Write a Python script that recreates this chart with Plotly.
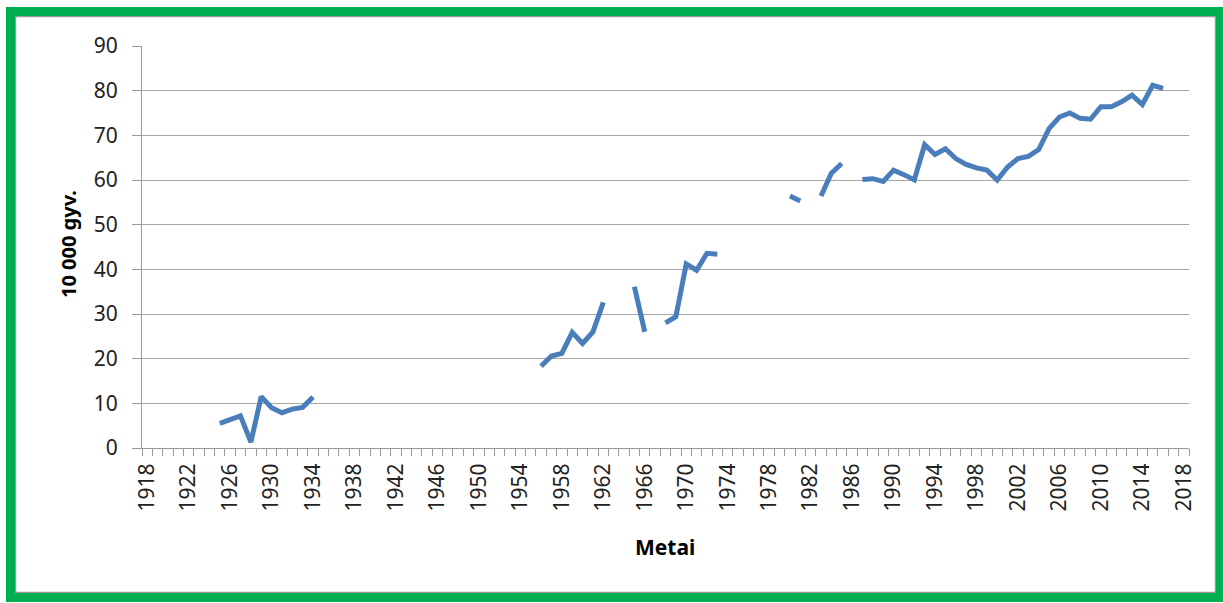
import plotly.graph_objects as go

years = list(range(1918, 2019))
population = [
    None, None, None, None, None, None, None, 5.5, 6.5, 7.2,          # 1918-1927
    1.3, 11.5, 9.0, 7.9, 8.7, 9.1, 11.4, None, None, None,            # 1928-1937
    None, None, None, None, None, None, None, None, None, None,       # 1938-1947
    None, None, None, None, None, None, None, None, 18.3, 20.6,       # 1948-1957
    21.2, 25.9, 23.4, 26.0, 32.6, None, None, 36.1, 26.0, None,       # 1958-1967
    28.0, 29.4, 41.2, 39.8, 43.6, 43.4, None, None, None, None,       # 1968-1977
    None, None, 56.4, 55.3, None, 56.4, 61.5, 63.7, None, 60.1,       # 1978-1987
    60.3, 59.7, 62.2, 61.2, 60.0, 67.9, 65.7, 67.0, 64.8, 63.5,       # 1988-1997
    62.7, 62.2, 60.0, 62.9, 64.8, 65.3, 66.8, 71.5, 74.1, 75.0,       # 1998-2007
    73.8, 73.6, 76.4, 76.4, 77.5, 79.0, 76.9, 81.2, 80.5, None,       # 2008-2017
    None,                                                             # 2018
]
tick_years = list(range(1918, 2019, 4))
tick_labels = [str(y) for y in tick_years]
y_ticks = list(range(0, 91, 10))

W, H = 1223, 603
L, R, T, B = 142, 34, 46, 155
pw, ph = W - L - R, H - T - B

def px(x):
    return (x - L) / pw

def py(y):
    return (H - B - y) / ph

FONT = "Noto Sans"

fig = go.Figure()
fig.add_trace(go.Scatter(
    x=years, y=population, mode="lines", connectgaps=False,
    line=dict(color="#4A7EBB", width=5), showlegend=False,
))

fig.update_layout(
    width=W, height=H,
    margin=dict(l=L, r=R, t=T, b=B),
    paper_bgcolor="white", plot_bgcolor="white",
    font=dict(family=FONT, size=21, color="#222222"),
    xaxis=dict(
        range=[1917.5, 2018.5], tickmode="array", tickvals=tick_years, ticktext=tick_labels,
        tickangle=-90, ticks="", showgrid=False, zeroline=False,
        showline=True, linecolor="#9a9a9a", linewidth=1,
        minor=dict(ticks="outside", tick0=1917.5, dtick=1, ticklen=7,
                   tickcolor="#9a9a9a", tickwidth=1, showgrid=False),
        tickfont=dict(size=21), ticklabelstandoff=6,
    ),
    yaxis=dict(
        range=[0, 90], tickmode="array", tickvals=y_ticks,
        ticks="outside", ticklen=9, tickcolor="#9a9a9a",
        showgrid=True, gridcolor="#a6a6a6", gridwidth=1, zeroline=False,
        showline=True, linecolor="#9a9a9a", linewidth=1,
        tickfont=dict(size=21), ticklabelstandoff=10,
    ),
    annotations=[
        dict(text="<b>10 000 gyv.</b>", xref="paper", yref="paper",
             x=px(68), y=py(244), textangle=-90, showarrow=False,
             font=dict(size=20, family=FONT, color="black"),
             xanchor="center", yanchor="middle"),
        dict(text="<b>Metai</b>", xref="paper", yref="paper",
             x=px(665), y=py(547), showarrow=False,
             font=dict(size=21, family=FONT, color="black"),
             xanchor="center", yanchor="middle"),
    ],
    shapes=[
        dict(type="rect", xref="paper", yref="paper",
             x0=px(15.5), x1=px(1215.5), y0=py(592.5), y1=py(16.5),
             line=dict(color="#9a9a9a", width=1.5)),
        dict(type="rect", xref="paper", yref="paper",
             x0=px(10.5), x1=px(1220.5), y0=py(597.5), y1=py(11.5),
             line=dict(color="#00B050", width=9)),
    ],
)

fig.write_html(
    "out.html",
    config={"displayModeBar": False},
    post_script="document.body.style.margin='0';document.body.style.overflow='hidden';",
)
